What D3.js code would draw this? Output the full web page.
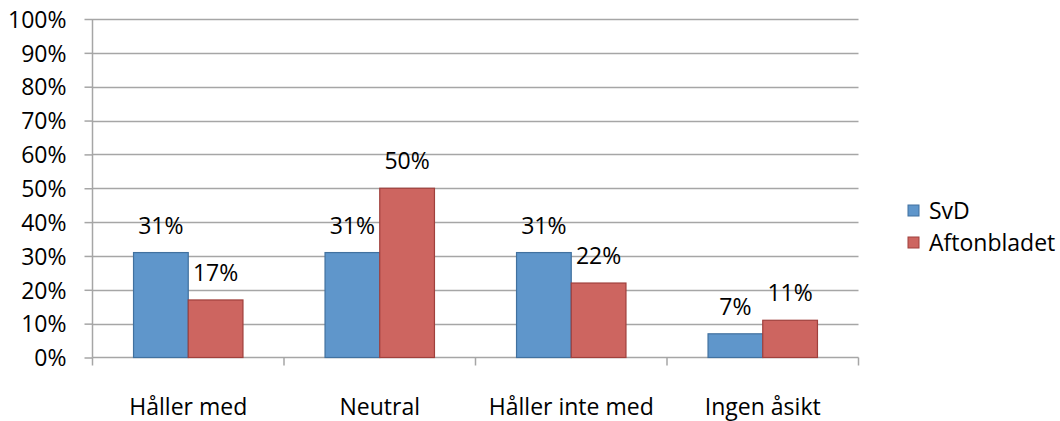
<!DOCTYPE html>
<html>
<head>
<meta charset="utf-8">
<script src="https://cdn.jsdelivr.net/npm/d3@7/dist/d3.min.js"></script>
<style>
  html, body { margin: 0; padding: 0; background: #ffffff; }
  svg { display: block; font-family: "Open Sans", sans-serif; }
</style>
</head>
<body>
<svg id="chart" width="1060" height="421"></svg>
<script>
// Survey answers per newspaper (share of respondents)
const categories = ["Håller med", "Neutral", "Håller inte med", "Ingen åsikt"];
const seriesNames = ["SvD", "Aftonbladet"];
const svdValues = [0.31, 0.31, 0.31, 0.07];
const aftonbladetValues = [0.17, 0.50, 0.22, 0.11];
const yTicks = [0, 0.1, 0.2, 0.3, 0.4, 0.5, 0.6, 0.7, 0.8, 0.9, 1.0];

const fills = ["#5F96CB", "#CD6560"];
const strokes = ["#41719F", "#A0403C"];

const svg = d3.select("#chart");
const plot = { left: 92.5, right: 858.5, top: 19, bottom: 357.5 };
const fontSize = 23;

const x = d3.scaleBand()
  .domain(categories)
  .range([plot.left, plot.right])
  .paddingInner(0)
  .paddingOuter(0);

// Excel-style gap: each group uses 2 bars out of 3.5 bar-widths
const x1 = d3.scaleBand()
  .domain(seriesNames)
  .range([0, x.bandwidth()])
  .paddingInner(0)
  .paddingOuter(0.75);

const y = d3.scaleLinear().domain([0, 1]).range([plot.bottom, plot.top]);

const pct = d3.format(".0%");

// Horizontal gridlines
svg.append("g")
  .selectAll("line")
  .data(yTicks.filter(d => d > 0))
  .join("line")
  .attr("x1", plot.left)
  .attr("x2", plot.right)
  .attr("y1", d => Math.round(y(d)) + 0.5)
  .attr("y2", d => Math.round(y(d)) + 0.5)
  .attr("stroke", "#A6A6A6")
  .attr("stroke-width", 1.5);

// Y axis
const yAxis = svg.append("g")
  .attr("transform", `translate(${plot.left},0)`)
  .call(d3.axisLeft(y).tickValues(yTicks).tickFormat(pct).tickSize(8).tickPadding(18));
yAxis.select(".domain").attr("stroke", "#A6A6A6").attr("stroke-width", 1.5)
  .attr("d", `M0,${plot.top}V${plot.bottom}`);
yAxis.selectAll(".tick line").attr("stroke", "#A6A6A6").attr("stroke-width", 1.5);
yAxis.selectAll(".tick text")
  .attr("font-size", fontSize)
  .attr("font-family", "'Open Sans', sans-serif")
  .attr("fill", "#000")
  .attr("dy", "0.36em");

// X axis
const xAxis = svg.append("g")
  .attr("transform", `translate(0,${plot.bottom})`)
  .call(d3.axisBottom(x).tickSize(0).tickPadding(41));
xAxis.select(".domain").attr("stroke", "#A6A6A6").attr("stroke-width", 1.5)
  .attr("d", `M${plot.left},0H${plot.right}`);
xAxis.selectAll(".tick text")
  .attr("font-size", fontSize)
  .attr("font-family", "'Open Sans', sans-serif")
  .attr("fill", "#000");
// Category boundary ticks
const boundaries = categories.map(c => x(c)).concat([plot.right]);
xAxis.append("g")
  .selectAll("line")
  .data(boundaries)
  .join("line")
  .attr("x1", d => d).attr("x2", d => d)
  .attr("y1", 0).attr("y2", 8)
  .attr("stroke", "#A6A6A6").attr("stroke-width", 1.5);

// Bars
const rows = categories.map((c, i) => ({
  category: c,
  values: [
    { series: "SvD", value: svdValues[i], idx: 0 },
    { series: "Aftonbladet", value: aftonbladetValues[i], idx: 1 }
  ]
}));

const groups = svg.append("g")
  .selectAll("g")
  .data(rows)
  .join("g")
  .attr("transform", d => `translate(${x(d.category)},0)`);

groups.selectAll("rect")
  .data(d => d.values)
  .join("rect")
  .attr("x", d => x1(d.series))
  .attr("y", d => y(d.value))
  .attr("width", x1.bandwidth())
  .attr("height", d => y(0) - y(d.value))
  .attr("fill", d => fills[d.idx])
  .attr("stroke", d => strokes[d.idx])
  .attr("stroke-width", 1.2);

groups.selectAll("text")
  .data(d => d.values)
  .join("text")
  .attr("x", d => x1(d.series) + x1.bandwidth() / 2)
  .attr("y", d => y(d.value) - 19)
  .attr("text-anchor", "middle")
  .attr("font-size", fontSize)
  .attr("fill", "#000")
  .text(d => pct(d.value));

// Legend
const legend = svg.append("g")
  .selectAll("g")
  .data(seriesNames)
  .join("g")
  .attr("transform", (d, i) => `translate(908,${211 + i * 32})`);

legend.append("rect")
  .attr("x", 0).attr("y", -6)
  .attr("width", 11).attr("height", 11)
  .attr("fill", (d, i) => fills[i])
  .attr("stroke", (d, i) => strokes[i])
  .attr("stroke-width", 1);

legend.append("text")
  .attr("x", 21)
  .attr("y", 0)
  .attr("dy", "0.36em")
  .attr("font-size", fontSize)
  .attr("fill", "#000")
  .text(d => d);
</script>
</body>
</html>
